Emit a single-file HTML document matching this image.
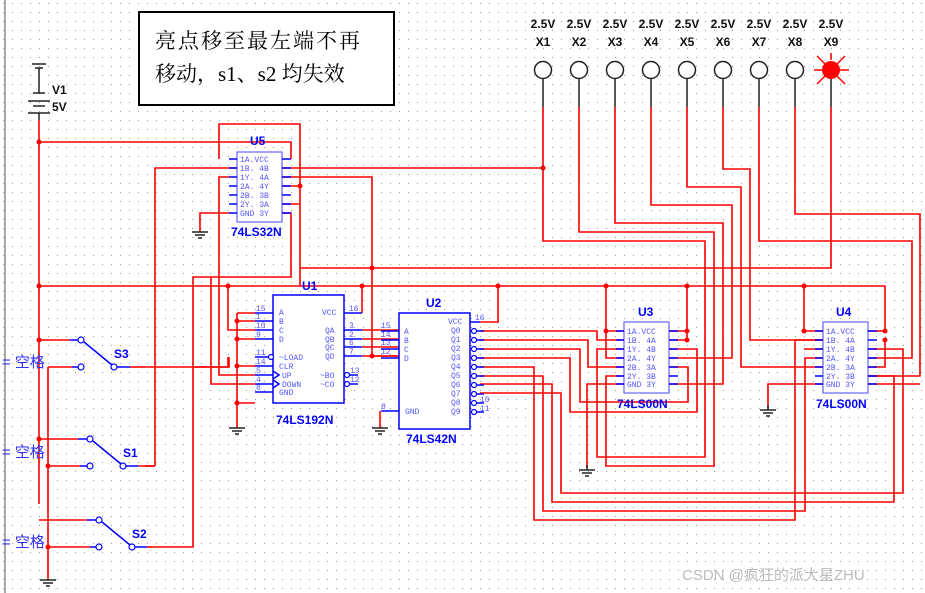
<!DOCTYPE html>
<html><head><meta charset="utf-8"><style>
html,body{margin:0;padding:0;background:#fff}
svg{display:block}
.w{stroke:#f00;stroke-width:1.6;fill:none}
.b{stroke:#00f;stroke-width:1.5;fill:none}
.k{stroke:#222;stroke-width:1.5;fill:none}
.pn{font:8px "Liberation Mono",monospace;fill:#55f}
.lb{font:bold 12px "Liberation Sans",sans-serif;fill:#00f}
.bl{font:bold 12px "Liberation Sans",sans-serif;fill:#111}
</style></head><body>
<svg width="925" height="593" viewBox="0 0 925 593" xmlns="http://www.w3.org/2000/svg">
<defs><pattern id="g" width="9" height="9" patternUnits="userSpaceOnUse" x="3" y="3"><rect x="0" y="0" width="1" height="1" fill="#999"/></pattern></defs>
<rect width="925" height="593" fill="#fff"/>
<rect width="925" height="593" fill="url(#g)"/>
<line x1="5" y1="0" x2="5" y2="593" stroke="#888" stroke-width="1.5"/>

<!-- text box -->
<rect x="139" y="12" width="255" height="93" fill="#fff" stroke="#000" stroke-width="2"/>
<text x="155" y="48" style="font:21px 'Liberation Serif','Noto Serif CJK SC',serif;letter-spacing:2px">亮点移至最左端不再</text>
<text x="155" y="81" style="font:21px 'Liberation Serif','Noto Serif CJK SC',serif">移动，s1、s2 均失效</text>

<!-- battery -->
<g class="k"><line x1="32" y1="64" x2="46" y2="64"/><line x1="35" y1="68" x2="43" y2="68"/><line x1="39" y1="68" x2="39" y2="93"/><line x1="33" y1="93" x2="45" y2="93"/><line x1="28" y1="101" x2="50" y2="101"/><line x1="33" y1="106" x2="45" y2="106"/><line x1="28" y1="113" x2="50" y2="113"/><line x1="39" y1="113" x2="39" y2="120"/></g>
<text x="52" y="94" class="bl">V1</text><text x="52" y="111" class="bl">5V</text>

<!-- lamps -->
<g class="bl" text-anchor="middle">
<text x="543" y="28">2.5V</text><text x="579" y="28">2.5V</text><text x="615" y="28">2.5V</text><text x="651" y="28">2.5V</text><text x="687" y="28">2.5V</text><text x="723" y="28">2.5V</text><text x="759" y="28">2.5V</text><text x="795" y="28">2.5V</text><text x="831" y="28">2.5V</text>
<text x="543" y="46">X1</text><text x="579" y="46">X2</text><text x="615" y="46">X3</text><text x="651" y="46">X4</text><text x="687" y="46">X5</text><text x="723" y="46">X6</text><text x="759" y="46">X7</text><text x="795" y="46">X8</text><text x="831" y="46">X9</text>
</g>
<g class="k" fill="#fff">
<circle cx="543" cy="70" r="8.5" fill="#fff"/><circle cx="579" cy="70" r="8.5" fill="#fff"/><circle cx="615" cy="70" r="8.5" fill="#fff"/><circle cx="651" cy="70" r="8.5" fill="#fff"/><circle cx="687" cy="70" r="8.5" fill="#fff"/><circle cx="723" cy="70" r="8.5" fill="#fff"/><circle cx="759" cy="70" r="8.5" fill="#fff"/><circle cx="795" cy="70" r="8.5" fill="#fff"/>
<line x1="543" y1="79" x2="543" y2="107"/><line x1="579" y1="79" x2="579" y2="107"/><line x1="615" y1="79" x2="615" y2="107"/><line x1="651" y1="79" x2="651" y2="107"/><line x1="687" y1="79" x2="687" y2="107"/><line x1="723" y1="79" x2="723" y2="107"/><line x1="759" y1="79" x2="759" y2="107"/><line x1="795" y1="79" x2="795" y2="107"/><line x1="831" y1="79" x2="831" y2="107"/>
</g>
<circle cx="831" cy="70" r="9" fill="#f00"/>
<g stroke="#f00" stroke-width="1.5"><line x1="814" y1="70" x2="849" y2="70"/><line x1="817" y1="56" x2="845" y2="84"/><line x1="845" y1="56" x2="817" y2="84"/><line x1="831" y1="53" x2="831" y2="60"/></g>

<!-- wires -->
<g class="w">
<polyline points="39,120 39,504"/>
<polyline points="39,142 291,142 291,159"/>
<polyline points="39,286 885,286 885,331"/>
<polyline points="219,159 219,124 300,124 300,286"/>
<polyline points="155,466 155,168 237,168"/>
<polyline points="282,168 543,168"/>
<polyline points="543,107 543,241 705,241 705,457 597,457 597,349 624,349"/>
<polyline points="579,107 579,232 714,232 714,466 606,466 606,376 624,376"/>
<polyline points="615,107 615,223 723,223 723,384 669,384"/>
<polyline points="651,107 651,205 732,205 732,358 669,358"/>
<polyline points="687,107 687,187 741,187 741,367 823,367"/>
<polyline points="723,107 723,169 750,169 750,340 867,340"/>
<polyline points="759,107 759,241 912,241 912,358 867,358"/>
<polyline points="795,107 795,214 920,214 920,376 867,376"/>
<polyline points="831,107 831,268 300,268"/>
<polyline points="229,177 219,177 219,375 255,375"/>
<polyline points="282,177 372,177 372,356 399,356"/>
<polyline points="282,186 300,186"/>
<polyline points="282,204 300,204"/>
<polyline points="282,213 291,213 291,277 211,277 211,384 255,384"/>
<polyline points="229,213 200,213 200,232"/>
<polyline points="237,313 237,403 255,403"/>
<polyline points="237,321 255,321"/><polyline points="237,339 255,339"/><polyline points="237,366 255,366"/><polyline points="237,313 255,313"/>
<polyline points="228,286 228,330 255,330"/>
<polyline points="237,403 237,428"/>
<polyline points="229,357 229,367 194,367"/>
<polyline points="362,313 362,286"/>
<polyline points="362,330 399,330"/><polyline points="362,339 399,339"/><polyline points="362,347 399,347"/><polyline points="362,356 399,356"/>
<polyline points="380,411 380,428"/>
<polyline points="480,322 498,322 498,286"/>
<polyline points="480,331 597,331 597,340 624,340"/>
<polyline points="480,340 588,340 588,367 624,367"/>
<polyline points="480,349 580,349 580,402 688,402 688,367 669,367"/>
<polyline points="480,358 570,358 570,412 697,412 697,349 669,349"/>
<polyline points="480,367 534,367 534,520 795,520 795,340 823,340"/>
<polyline points="480,376 543,376 543,511 805,511 805,358 823,358"/>
<polyline points="480,384 552,384 552,502 894,502 894,376 867,376"/>
<polyline points="480,393 561,393 561,493 903,493 903,349 867,349"/>
<polyline points="606,286 606,358 624,358"/>
<polyline points="606,331 624,331"/>
<polyline points="687,286 687,340 669,340"/><polyline points="669,331 687,331"/>
<polyline points="624,384 587,384 587,468"/>
<polyline points="804,286 804,331 823,331"/><polyline points="804,349 823,349"/>
<polyline points="885,331 867,331"/><polyline points="885,340 885,367 867,367"/>
<polyline points="867,384 920,384"/>
<polyline points="823,384 768,384 768,408"/>
<!-- switches wiring -->
<polyline points="39,340 70,340"/>
<polyline points="39,439 78,439"/>
<polyline points="39,520 87,520"/>
<polyline points="48,367 48,580"/>
<polyline points="48,367 72,367"/><polyline points="48,466 80,466"/><polyline points="48,547 90,547"/>
<polyline points="145,367 228,367 228,357"/>
<polyline points="145,466 155,466"/>
<polyline points="155,547 193,547 193,277 211,277"/>
</g>
<!-- junction dots -->
<g fill="#f00">
<circle cx="39" cy="142" r="2.5"/><circle cx="39" cy="286" r="2.5"/><circle cx="39" cy="340" r="2.5"/><circle cx="39" cy="439" r="2.5"/>
<circle cx="48" cy="466" r="2.5"/><circle cx="48" cy="547" r="2.5"/><circle cx="543" cy="168" r="2.5"/><circle cx="300" cy="186" r="2.5"/>
<circle cx="228" cy="286" r="2.5"/><circle cx="362" cy="286" r="2.5"/><circle cx="498" cy="286" r="2.5"/><circle cx="606" cy="286" r="2.5"/><circle cx="687" cy="286" r="2.5"/><circle cx="804" cy="286" r="2.5"/>
<circle cx="372" cy="268" r="2.5"/><circle cx="372" cy="356" r="2.5"/>
<circle cx="237" cy="321" r="2.5"/><circle cx="237" cy="339" r="2.5"/><circle cx="237" cy="366" r="2.5"/><circle cx="237" cy="403" r="2.5"/>
<circle cx="606" cy="331" r="2.5"/><circle cx="687" cy="331" r="2.5"/><circle cx="687" cy="340" r="2.5"/>
<circle cx="804" cy="331" r="2.5"/><circle cx="885" cy="331" r="2.5"/><circle cx="885" cy="340" r="2.5"/>
</g>

<!-- switches -->
<g class="b">
<line x1="70" y1="340" x2="78" y2="340"/><line x1="72" y1="367" x2="78" y2="367"/><line x1="117" y1="367" x2="130" y2="367"/><line x1="84" y1="342" x2="112" y2="365"/>
<line x1="78" y1="439" x2="87" y2="439"/><line x1="80" y1="466" x2="87" y2="466"/><line x1="126" y1="466" x2="138" y2="466"/><line x1="93" y1="441" x2="121" y2="464"/>
<line x1="87" y1="520" x2="96" y2="520"/><line x1="90" y1="547" x2="96" y2="547"/><line x1="135" y1="547" x2="147" y2="547"/><line x1="102" y1="522" x2="130" y2="545"/>
</g>
<g fill="#fff" stroke="#00f" stroke-width="1.2">
<circle cx="81" cy="340" r="3"/><circle cx="81" cy="367" r="3"/><circle cx="114" cy="367" r="3"/>
<circle cx="90" cy="439" r="3"/><circle cx="90" cy="466" r="3"/><circle cx="123" cy="466" r="3"/>
<circle cx="99" cy="520" r="3"/><circle cx="99" cy="547" r="3"/><circle cx="132" cy="547" r="3"/>
</g>
<polyline class="w" points="130,367 145,367"/><polyline class="w" points="138,466 155,466"/><polyline class="w" points="147,547 155,547"/>
<text x="114" y="358" class="lb">S3</text><text x="123" y="457" class="lb">S1</text><text x="132" y="538" class="lb">S2</text>
<g style="font:15px 'Liberation Sans','Noto Sans CJK SC',sans-serif;fill:#33f"><text x="2" y="367">= 空格</text><text x="2" y="457">= 空格</text><text x="2" y="547">= 空格</text></g>

<!-- grounds -->
<g class="k">
<g transform="translate(200,232)"><line x1="-8" y1="0" x2="8" y2="0"/><line x1="-5" y1="3" x2="5" y2="3"/><line x1="-2" y1="6" x2="2" y2="6"/></g>
<g transform="translate(237,428)"><line x1="-8" y1="0" x2="8" y2="0"/><line x1="-5" y1="3" x2="5" y2="3"/><line x1="-2" y1="6" x2="2" y2="6"/></g>
<g transform="translate(380,428)"><line x1="-8" y1="0" x2="8" y2="0"/><line x1="-5" y1="3" x2="5" y2="3"/><line x1="-2" y1="6" x2="2" y2="6"/></g>
<g transform="translate(587,470)"><line x1="0" y1="-5" x2="0" y2="0"/><line x1="-8" y1="0" x2="8" y2="0"/><line x1="-5" y1="3" x2="5" y2="3"/><line x1="-2" y1="6" x2="2" y2="6"/></g>
<g transform="translate(768,410)"><line x1="0" y1="-5" x2="0" y2="0"/><line x1="-8" y1="0" x2="8" y2="0"/><line x1="-5" y1="3" x2="5" y2="3"/><line x1="-2" y1="6" x2="2" y2="6"/></g>
<g transform="translate(48,580)"><line x1="-8" y1="0" x2="8" y2="0"/><line x1="-5" y1="3" x2="5" y2="3"/><line x1="-2" y1="6" x2="2" y2="6"/></g>
</g>

<!-- U5 -->
<rect x="237" y="152" width="45" height="70" fill="#fff" stroke="#66f" stroke-width="1.2"/>
<g class="b"><path d="M229 159h8M229 168h8M229 177h8M229 186h8M229 195h8M229 204h8M229 213h8M282 159h9M282 168h9M282 177h9M282 186h9M282 195h9M282 204h9M282 213h9"/></g>
<g class="pn"><text x="240" y="162">1A.VCC</text><text x="240" y="171">1B. 4B</text><text x="240" y="180">1Y. 4A</text><text x="240" y="189">2A. 4Y</text><text x="240" y="198">2B. 3B</text><text x="240" y="207">2Y. 3A</text><text x="240" y="216">GND 3Y</text></g>
<text x="250" y="145" class="lb">U5</text><text x="231" y="236" class="lb">74LS32N</text>

<!-- U1 -->
<rect x="273" y="295" width="71" height="108" fill="#fff" stroke="#00f" stroke-width="1.5"/>
<g class="b"><path d="M255 313h18M255 321h18M255 330h18M255 339h18M255 357h14M255 366h18M255 375h18M255 384h18M255 392h18M344 313h18M344 330h18M344 339h18M344 347h18M344 356h18M348 375h10M348 384h10"/><path d="M273 371l6 4-6 4M273 380l6 4-6 4"/></g>
<g fill="#fff" stroke="#00f" stroke-width="1.2"><circle cx="271" cy="357" r="2.5"/><circle cx="347" cy="375" r="2.5"/><circle cx="347" cy="384" r="2.5"/></g>
<g class="pn"><text x="279" y="315">A</text><text x="279" y="324">B</text><text x="279" y="333">C</text><text x="279" y="342">D</text><text x="279" y="360">~LOAD</text><text x="279" y="369">CLR</text><text x="282" y="378">UP</text><text x="282" y="387">DOWN</text><text x="279" y="395">GND</text>
<text x="322" y="315">VCC</text><text x="325" y="333">QA</text><text x="325" y="342">QB</text><text x="325" y="350">QC</text><text x="325" y="359">QD</text><text x="320" y="378">~BO</text><text x="320" y="387">~CO</text>
<text x="256" y="311">15</text><text x="256" y="319">1</text><text x="256" y="328">10</text><text x="256" y="337">9</text><text x="256" y="355">11</text><text x="256" y="364">14</text><text x="256" y="373">5</text><text x="256" y="382">4</text><text x="256" y="390">8</text>
<text x="349" y="311">16</text><text x="349" y="328">3</text><text x="349" y="337">2</text><text x="349" y="345">6</text><text x="349" y="354">7</text><text x="350" y="373">13</text><text x="350" y="382">12</text>
<text x="381" y="328">15</text><text x="381" y="337">14</text><text x="381" y="345">13</text><text x="381" y="354">12</text><text x="381" y="409">8</text></g>
<text x="302" y="290" class="lb">U1</text><text x="276" y="424" class="lb">74LS192N</text>

<!-- U2 -->
<rect x="399" y="313" width="71" height="116" fill="#fff" stroke="#00f" stroke-width="1.5"/>
<g class="b"><path d="M381 331h18M381 340h18M381 349h18M381 358h18M381 411h18M470 322h10M476 331h8M476 340h8M476 349h8M476 358h8M476 367h8M476 376h8M476 385h8M476 394h8M476 403h8M476 412h8"/></g>
<g fill="#fff" stroke="#00f" stroke-width="1.2"><circle cx="474" cy="331" r="2.5"/><circle cx="474" cy="340" r="2.5"/><circle cx="474" cy="349" r="2.5"/><circle cx="474" cy="358" r="2.5"/><circle cx="474" cy="367" r="2.5"/><circle cx="474" cy="376" r="2.5"/><circle cx="474" cy="385" r="2.5"/><circle cx="474" cy="394" r="2.5"/><circle cx="474" cy="403" r="2.5"/><circle cx="474" cy="412" r="2.5"/></g>
<g class="pn"><text x="404" y="334">A</text><text x="404" y="343">B</text><text x="404" y="352">C</text><text x="404" y="361">D</text><text x="405" y="414">GND</text>
<text x="448" y="324">VCC</text><text x="451" y="333">Q0</text><text x="451" y="342">Q1</text><text x="451" y="351">Q2</text><text x="451" y="360">Q3</text><text x="451" y="369">Q4</text><text x="451" y="378">Q5</text><text x="451" y="387">Q6</text><text x="451" y="396">Q7</text><text x="451" y="405">Q8</text><text x="451" y="414">Q9</text>
<text x="475" y="320">16</text><text x="480" y="402">10</text><text x="480" y="411">11</text></g>
<text x="426" y="307" class="lb">U2</text><text x="406" y="443" class="lb">74LS42N</text>

<!-- U3 / U4 -->
<g id="u3">
<rect x="624" y="322" width="45" height="71" fill="#fff" stroke="#66f" stroke-width="1.2"/>
<g class="b"><path d="M616 331h8M616 340h8M616 349h8M616 358h8M616 367h8M616 376h8M616 384h8M669 331h9M669 340h9M669 349h9M669 358h9M669 367h9M669 376h9M669 384h9"/></g>
<g class="pn"><text x="627" y="334">1A.VCC</text><text x="627" y="343">1B. 4A</text><text x="627" y="352">1Y. 4B</text><text x="627" y="361">2A. 4Y</text><text x="627" y="370">2B. 3A</text><text x="627" y="379">2Y. 3B</text><text x="627" y="387">GND 3Y</text></g>
</g>
<g transform="translate(199,0)">
<rect x="624" y="322" width="45" height="71" fill="#fff" stroke="#66f" stroke-width="1.2"/>
<g class="b"><path d="M616 331h8M616 340h8M616 349h8M616 358h8M616 367h8M616 376h8M616 384h8M669 331h9M669 340h9M669 349h9M669 358h9M669 367h9M669 376h9M669 384h9"/></g>
<g class="pn"><text x="627" y="334">1A.VCC</text><text x="627" y="343">1B. 4A</text><text x="627" y="352">1Y. 4B</text><text x="627" y="361">2A. 4Y</text><text x="627" y="370">2B. 3A</text><text x="627" y="379">2Y. 3B</text><text x="627" y="387">GND 3Y</text></g>
</g>
<text x="638" y="316" class="lb">U3</text><text x="617" y="408" class="lb">74LS00N</text>
<text x="836" y="316" class="lb">U4</text><text x="816" y="408" class="lb">74LS00N</text>

<text x="682" y="580" style="font:15px 'Liberation Sans','Noto Sans CJK SC',sans-serif;fill:#bbb">CSDN @疯狂的派大星ZHU</text>
</svg>
</body></html>
